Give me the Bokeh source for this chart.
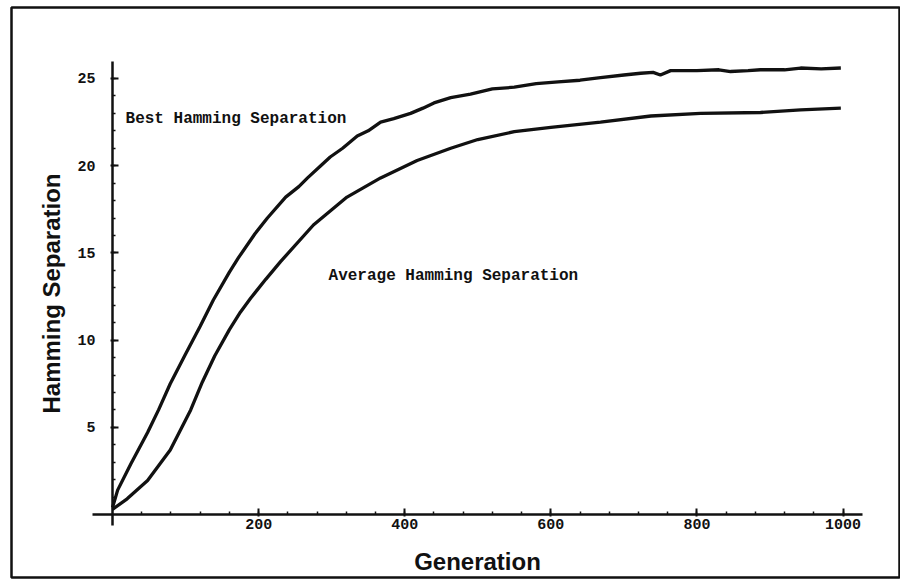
from bokeh.plotting import figure
from bokeh.models import Range1d, FixedTicker, Label
from bokeh.embed import file_html
from bokeh.resources import INLINE

# Data
best_x = [0, 7, 25, 48, 63, 79, 100, 120, 138, 160, 172, 195, 212, 237, 255, 267,
          285, 298, 315, 335, 350, 367, 385, 408, 425, 440, 463, 490, 520, 550, 580,
          610, 640, 668, 700, 723, 740, 750, 764, 800, 830, 846, 870, 887, 920, 942,
          970, 997]
best_y = [0.4, 1.4, 2.9, 4.7, 6.0, 7.5, 9.2, 10.8, 12.3, 13.9, 14.7, 16.1, 17.0, 18.2,
          18.8, 19.3, 20.0, 20.5, 21.0, 21.7, 22.0, 22.5, 22.7, 23.0, 23.3, 23.6, 23.9,
          24.1, 24.4, 24.5, 24.7, 24.8, 24.9, 25.05, 25.2, 25.3, 25.35, 25.2, 25.45,
          25.45, 25.5, 25.4, 25.45, 25.5, 25.5, 25.6, 25.55, 25.6]

avg_x = [0, 20, 48, 79, 107, 123, 140, 160, 175, 189, 210, 230, 275, 321, 367, 417,
         463, 500, 550, 600, 668, 737, 805, 887, 942, 997]
avg_y = [0.3, 0.9, 1.95, 3.7, 6.0, 7.6, 9.1, 10.6, 11.6, 12.4, 13.5, 14.5, 16.6, 18.2,
         19.3, 20.3, 21.0, 21.5, 21.95, 22.2, 22.5, 22.85, 23.0, 23.05, 23.2, 23.3]

x_ticks = [200, 400, 600, 800, 1000]
y_ticks = [5, 10, 15, 20, 25]

ink = "#111111"

p = figure(width=900, height=579, output_backend="svg", toolbar_location=None,
           x_range=Range1d(-138.3, 1077.3), y_range=Range1d(-3.61, 29.07),
           min_border_left=11, min_border_top=7, min_border_right=1,
           min_border_bottom=2)
p.xgrid.visible = False
p.ygrid.visible = False
p.outline_line_color = ink
p.outline_line_width = 2.5

p.line(best_x, best_y, line_color=ink, line_width=3.3)
p.line(avg_x, avg_y, line_color=ink, line_width=3.3)

for ax in (p.xaxis[0], p.yaxis[0]):
    ax.fixed_location = 0
    ax.axis_line_color = ink
    ax.axis_line_width = 2.5
    ax.major_tick_line_color = ink
    ax.minor_tick_line_color = ink
    ax.major_tick_line_width = 2
    ax.minor_tick_line_width = 1.5
    ax.major_tick_in = 6
    ax.major_tick_out = 2
    ax.minor_tick_in = 3
    ax.minor_tick_out = 0
    ax.major_label_text_font = "Liberation Mono"
    ax.major_label_text_font_style = "bold"
    ax.major_label_text_font_size = "15px"
    ax.major_label_text_color = ink
    ax.axis_label_text_font = "Liberation Sans"
    ax.axis_label_text_font_style = "bold"
    ax.axis_label_text_font_size = "24px"
    ax.axis_label_text_color = ink

p.xaxis.bounds = (-27, 1027)
p.yaxis.bounds = (-0.6, 26)
p.xaxis.ticker = FixedTicker(ticks=x_ticks, minor_ticks=list(range(40, 1001, 40)))
p.yaxis.ticker = FixedTicker(ticks=y_ticks, minor_ticks=list(range(1, 26)))
p.xaxis.major_label_standoff = 2
p.yaxis.major_label_standoff = 15
p.xaxis.axis_label = "Generation"
p.yaxis.axis_label = "Hamming Separation"
p.xaxis.axis_label_standoff = 16
p.yaxis.axis_label_standoff = 9

p.add_layout(Label(x=17.8, y=22.65, text="Best Hamming Separation",
                   text_font="Liberation Mono", text_font_style="bold",
                   text_font_size="16px", text_color=ink,
                   text_baseline="middle", text_align="left"))
p.add_layout(Label(x=295.7, y=13.7, text="Average Hamming Separation",
                   text_font="Liberation Mono", text_font_style="bold",
                   text_font_size="16px", text_color=ink,
                   text_baseline="middle", text_align="left"))

open("out.html", "w").write(file_html(p, INLINE))
